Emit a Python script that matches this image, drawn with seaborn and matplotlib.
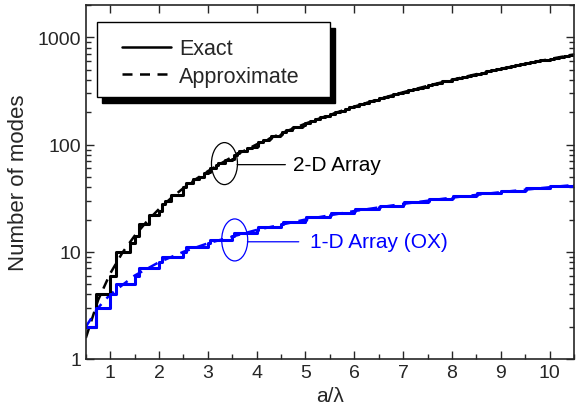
import numpy as np
import pandas as pd
import seaborn as sns
import matplotlib.pyplot as plt
from matplotlib.lines import Line2D
from matplotlib.patches import Ellipse, Rectangle
from matplotlib.ticker import MultipleLocator, LogLocator, FuncFormatter, NullFormatter
from matplotlib.transforms import ScaledTranslation

# 2-D array, exact mode count (staircase)
x2_exact = [0.5, 0.707, 1.0, 1.118, 1.414, 1.5, 1.581, 1.803, 2.0, 2.062, 2.121, 2.236,
            2.5, 2.55, 2.693, 2.828, 2.915, 3.0, 3.041, 3.162, 3.202, 3.354, 3.5, 3.536,
            3.606, 3.64, 3.808, 3.905, 4.0, 4.031, 4.123, 4.243, 4.272, 4.301, 4.472, 4.5,
            4.528, 4.61, 4.717, 4.743, 4.924, 4.95, 5.0,
            5.1, 5.2, 5.3, 5.4, 5.5, 5.6, 5.7, 5.8, 5.9, 6.0, 6.1, 6.2, 6.3, 6.4, 6.5,
            6.6, 6.7, 6.8, 6.9, 7.0, 7.1, 7.2, 7.3, 7.4, 7.5, 7.6, 7.7, 7.8, 7.9, 8.0,
            8.1, 8.2, 8.3, 8.4, 8.5, 8.6, 8.7, 8.8, 8.9, 9.0, 9.1, 9.2, 9.3, 9.4, 9.5,
            9.6, 9.7, 9.8, 9.9, 10.0, 10.1, 10.2, 10.3, 10.4, 10.5]
n2_exact = [2, 4, 6, 10, 12, 14, 18, 22, 24, 28, 30, 34,
            40, 44, 48, 50, 54, 56, 60, 64, 68, 72, 74, 80,
            84, 88, 92, 96, 98, 106, 110, 112, 116, 120, 124, 126,
            130, 138, 142, 146, 150, 152, 158,
            166, 172, 180, 186, 194, 200, 208, 214, 222, 230, 238, 246, 254, 262, 270,
            278, 286, 294, 304, 312, 322, 330, 340, 348, 358, 368, 378, 388, 396, 408,
            418, 428, 438, 448, 460, 470, 482, 492, 504, 514, 526, 538, 550, 562, 574,
            586, 598, 610, 622, 634, 648, 660, 674, 686, 700]

# 2-D array, approximate (dashed)
x2_approx = [0.5, 0.75, 1.0, 1.25, 1.5, 1.75, 2.0, 2.25, 2.5, 2.75, 3.0, 3.5, 4.0, 4.5,
             5.0, 5.5, 6.0, 6.5, 7.0, 7.5, 8.0, 8.5, 9.0, 9.5, 10.0, 10.5]
n2_approx = [1.57, 3.53, 6.28, 9.82, 14.1, 19.2, 25.1, 31.8, 39.3, 47.5, 56.5, 77.0, 100.5,
             127.2, 157.1, 190.1, 226.2, 265.5, 307.9, 353.4, 402.1, 454.0, 508.9, 567.1,
             628.3, 692.7]

# 1-D array (OX), exact
x1_exact = [0.5, 0.71, 1.0, 1.12, 1.5, 1.58, 2.0, 2.06, 2.5, 2.55, 3.0, 3.04, 3.5, 3.54,
            4.0, 4.03, 4.5, 4.53, 5.0, 5.02, 5.5, 5.52, 6.0, 6.02, 6.5, 6.52, 7.0, 7.02,
            7.5, 7.52, 8.0, 8.02, 8.5, 8.51, 9.0, 9.01, 9.5, 9.51, 10.0, 10.01, 10.5]
n1_exact = [2, 3, 4, 5, 6, 7, 8, 9, 10, 11, 12, 13, 14, 15,
            16, 17, 18, 19, 20, 21, 22, 23, 24, 25, 26, 27, 28, 29,
            30, 31, 32, 33, 34, 35, 36, 37, 38, 39, 40, 41, 42]

# 1-D array (OX), approximate
x1_approx = [0.5, 0.75, 1.0, 1.5, 2.0, 2.5, 3.0, 4.0, 5.0, 6.0, 7.0, 8.0, 9.0, 10.0, 10.5]
n1_approx = [2, 3, 4, 6, 8, 10, 12, 16, 20, 24, 28, 32, 36, 40, 42]

sns.set_style('ticks')
plt.rcParams['font.family'] = ['Liberation Sans', 'DejaVu Sans']

fig, ax = plt.subplots(figsize=(5.76, 4.10), dpi=100)
fig.subplots_adjust(left=0.149, right=0.9965, top=0.985, bottom=0.122)

blue = '#0000ff'
dash = (0, (4, 3))

sns.lineplot(x=x2_approx, y=n2_approx, color='black', lw=1.8, linestyle=dash,
             estimator=None, sort=False, ax=ax)
sns.lineplot(x=x1_approx, y=n1_approx, color=blue, lw=1.8, linestyle=dash,
             estimator=None, sort=False, ax=ax)
sns.lineplot(x=x2_exact, y=n2_exact, color='black', lw=2.2, drawstyle='steps-post',
             estimator=None, sort=False, ax=ax)
sns.lineplot(x=x1_exact, y=n1_exact, color=blue, lw=2.2, drawstyle='steps-post',
             estimator=None, sort=False, ax=ax)

ax.set_yscale('log')
ax.set_xlim(0.5, 10.5)
ax.set_ylim(1, 2000)
ax.xaxis.set_major_locator(MultipleLocator(1))
ax.xaxis.set_minor_locator(MultipleLocator(0.5))
ax.yaxis.set_major_locator(LogLocator(base=10))
ax.yaxis.set_minor_locator(LogLocator(base=10, subs=np.arange(2, 10)))
ax.yaxis.set_major_formatter(FuncFormatter(lambda v, p: f'{v:g}'))
ax.yaxis.set_minor_formatter(NullFormatter())

ax.tick_params(which='both', direction='in', top=True, right=True, labelsize=14, width=1)
ax.tick_params(which='major', length=6)
ax.tick_params(which='minor', length=3.5)
ax.tick_params(axis='x', which='minor', top=False)
for s in ax.spines.values():
    s.set_linewidth(1.2)

ax.set_xlabel('a/λ', fontsize=15, labelpad=4)
ax.set_ylabel('Number of modes', fontsize=16, labelpad=6)

# ellipses marking the curves
for (cx, cy), col in [((3.34, 66.5), 'black'), ((3.55, 12.9), blue)]:
    tr = fig.dpi_scale_trans + ScaledTranslation(cx, cy, ax.transData)
    ax.add_patch(Ellipse((0, 0), 0.26, 0.42, transform=tr, fill=False, ec=col, lw=0.9))

ax.annotate('2-D Array', xy=(3.6, 65), xytext=(4.74, 65), va='center', fontsize=15,
            color='black', arrowprops=dict(arrowstyle='-', color='black', lw=0.9,
                                           shrinkA=3, shrinkB=0))
ax.annotate('1-D Array (OX)', xy=(3.81, 12.4), xytext=(5.1, 12.4), va='center', fontsize=15,
            color=blue, arrowprops=dict(arrowstyle='-', color=blue, lw=0.9,
                                        shrinkA=6, shrinkB=0))

# legend box with solid black drop shadow
box_x, box_y, box_w, box_h = 0.0225, 0.740, 0.4775, 0.212
shadow = Rectangle((box_x, box_y), box_w, box_h, transform=ax.transAxes + ScaledTranslation(5 / 100, -6 / 100, fig.dpi_scale_trans),
                   facecolor='black', edgecolor='black', zorder=5)
frame = Rectangle((box_x, box_y), box_w, box_h, transform=ax.transAxes,
                  facecolor='white', edgecolor='black', lw=1.0, zorder=6)
ax.add_patch(shadow)
ax.add_patch(frame)

handles = [Line2D([], [], color='black', lw=1.8),
           Line2D([], [], color='black', lw=1.8, linestyle=dash)]
leg = ax.legend(handles, ['Exact', 'Approximate'], loc='upper left',
                bbox_to_anchor=(0.074, 0.907), fontsize=15.5, frameon=False,
                borderpad=0, labelspacing=0.3, handlelength=2.3, handletextpad=0.35,
                borderaxespad=0)
leg.set_zorder(7)

fig.savefig('out.png', dpi=100)
